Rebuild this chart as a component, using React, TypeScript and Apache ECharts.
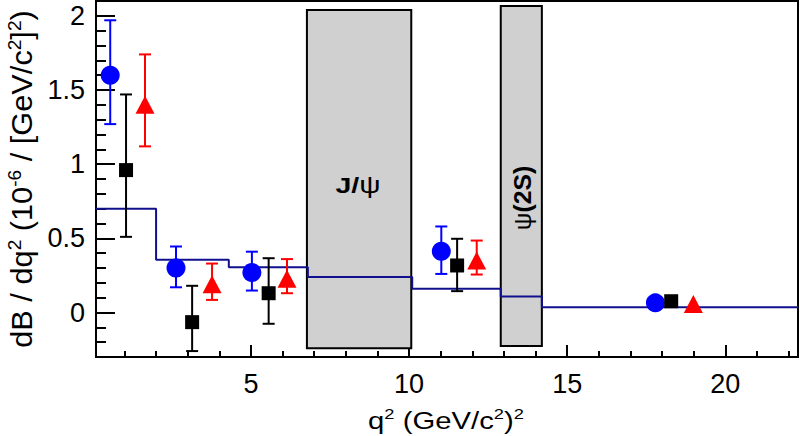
import React, { useEffect, useRef } from "react";
import * as echarts from "echarts";

// Histogram (theory prediction) bin edges and values
const binEdges = [0.1, 2.0, 4.3, 6.8, 10.1, 12.9, 14.2, 22.3];
const binValues = [0.7, 0.355, 0.305, 0.24, 0.16, 0.108, 0.036];

// Blue circles
const blueX = [0.55, 2.63, 5.03, 11.02, 17.79];
const blueY = [1.6, 0.3, 0.27, 0.413, 0.065];
const blueLo = [1.27, 0.17, 0.148, 0.26, 0.065];
const blueHi = [1.97, 0.445, 0.41, 0.58, 0.065];

// Black squares
const blackX = [1.05, 3.14, 5.56, 11.52, 18.29];
const blackY = [0.96, -0.065, 0.13, 0.317, 0.076];
const blackLo = [0.51, -0.26, -0.076, 0.144, 0.076];
const blackHi = [1.47, 0.18, 0.366, 0.497, 0.076];

// Red triangles
const redX = [1.65, 3.77, 6.14, 12.14, 18.99];
const redY = [1.4, 0.19, 0.227, 0.35, 0.058];
const redLo = [1.12, 0.085, 0.13, 0.256, 0.058];
const redHi = [1.74, 0.33, 0.36, 0.485, 0.058];

// Charmonium veto regions
const vetoX0 = [6.77, 12.9];
const vetoX1 = [10.07, 14.2];
const vetoY0 = [-0.241, -0.226];
const vetoY1 = [2.04, 2.067];

// Ticks
const xMajorTicks = [5, 10, 15, 20];
const xMinorTicks = [1, 2, 3, 4, 6, 7, 8, 9, 11, 12, 13, 14, 16, 17, 18, 19, 21, 22];
const yMajorTicks = [0, 0.5, 1, 1.5, 2];
const yMinorTicks = [
  -0.2, -0.1, 0.1, 0.2, 0.3, 0.4, 0.6, 0.7, 0.8, 0.9, 1.1, 1.2, 1.3, 1.4,
  1.6, 1.7, 1.8, 1.9, 2.1,
];

const FONT = "'Liberation Sans', Arial, Helvetica, sans-serif";

function errorBarSeries(xs: number[], lo: number[], hi: number[], color: string) {
  return {
    type: "custom",
    xAxisIndex: 0,
    yAxisIndex: 0,
    z: 3,
    data: xs.map((x, i) => [x, lo[i], hi[i]]),
    renderItem: (params: any, api: any) => {
      const x = api.value(0);
      const l = api.value(1);
      const h = api.value(2);
      if (h - l <= 0) return { type: "group", children: [] };
      const pLo = api.coord([x, l]);
      const pHi = api.coord([x, h]);
      const cap = 6;
      const style = { stroke: color, lineWidth: 2 };
      return {
        type: "group",
        children: [
          { type: "line", shape: { x1: pLo[0], y1: pLo[1], x2: pHi[0], y2: pHi[1] }, style },
          { type: "line", shape: { x1: pLo[0] - cap, y1: pLo[1], x2: pLo[0] + cap, y2: pLo[1] }, style },
          { type: "line", shape: { x1: pHi[0] - cap, y1: pHi[1], x2: pHi[0] + cap, y2: pHi[1] }, style },
        ],
      };
    },
  };
}

export default function App() {
  const ref = useRef<HTMLDivElement>(null);

  useEffect(() => {
    if (!ref.current) return;
    const chart = echarts.init(ref.current, null, { renderer: "svg" });

    const histData: number[][] = [];
    for (let i = 0; i < binValues.length; i++) histData.push([binEdges[i], binValues[i]]);
    histData.push([binEdges[binEdges.length - 1], binValues[binValues.length - 1]]);

    const ySup = { fontSize: 18, verticalAlign: "top", lineHeight: 32, fontFamily: FONT, fill: "#000" };
    const yBase = { fontSize: 29, lineHeight: 32, fontFamily: FONT, fill: "#000" };
    const xSup = { fontSize: 15, verticalAlign: "top", lineHeight: 28, fontFamily: FONT, fill: "#000" };
    const xBase = { fontSize: 24, lineHeight: 28, fontFamily: FONT, fill: "#000" };

    const option: any = {
      animation: false,
      backgroundColor: "#fff",
      grid: {
        left: 96,
        right: 2,
        top: 1,
        bottom: 79,
        show: true,
        borderColor: "#000",
        borderWidth: 2,
        backgroundColor: "transparent",
      },
      xAxis: [
        {
          type: "value",
          min: 0.1,
          max: 22.3,
          splitLine: { show: false },
          axisLine: { show: true, onZero: false, lineStyle: { color: "#000", width: 2 } },
          axisTick: {
            show: true,
            inside: true,
            length: 12,
            customValues: xMajorTicks,
            lineStyle: { color: "#000", width: 2 },
          },
          axisLabel: {
            show: true,
            customValues: xMajorTicks,
            fontSize: 27,
            fontFamily: FONT,
            color: "#000",
            margin: 13,
          },
        },
        {
          type: "value",
          min: 0.1,
          max: 22.3,
          position: "bottom",
          splitLine: { show: false },
          axisLine: { show: false, onZero: false },
          axisTick: {
            show: true,
            inside: true,
            length: 6,
            customValues: xMinorTicks,
            lineStyle: { color: "#000", width: 2 },
          },
          axisLabel: { show: false },
        },
      ],
      yAxis: [
        {
          type: "value",
          min: -0.3,
          max: 2.1,
          splitLine: { show: false },
          axisLine: { show: true, onZero: false, lineStyle: { color: "#000", width: 2 } },
          axisTick: {
            show: true,
            inside: true,
            length: 19,
            customValues: yMajorTicks,
            lineStyle: { color: "#000", width: 2 },
          },
          axisLabel: {
            show: true,
            customValues: yMajorTicks,
            fontSize: 27,
            fontFamily: FONT,
            color: "#000",
            margin: 11,
          },
        },
        {
          type: "value",
          min: -0.3,
          max: 2.1,
          position: "left",
          splitLine: { show: false },
          axisLine: { show: false, onZero: false },
          axisTick: {
            show: true,
            inside: true,
            length: 10,
            customValues: yMinorTicks,
            lineStyle: { color: "#000", width: 2 },
          },
          axisLabel: { show: false },
        },
      ],
      graphic: [
        {
          type: "text",
          x: 22,
          y: 179,
          rotation: Math.PI / 2,
          scaleX: 1.06,
          style: {
            text: "{b|dB / dq}{s|2}{b| (10}{s|-6}{b| / [GeV/c}{s|2}{b|]}{s|2}{b|)}",
            rich: { b: yBase, s: ySup },
            align: "center",
            verticalAlign: "middle",
          },
        },
        {
          type: "text",
          x: 446,
          y: 421,
          scaleX: 1.22,
          style: {
            text: "{b|q}{s|2}{b| (GeV/c}{s|2}{b|)}{s|2}",
            rich: { b: xBase, s: xSup },
            align: "center",
            verticalAlign: "middle",
          },
          z: 10,
        },
        {
          type: "text",
          x: 358,
          y: 185,
          z: 10,
          scaleX: 1.3,
          style: {
            text: "{b|J/}{n|ψ}",
            rich: {
              b: { fontSize: 22, fontWeight: "bold", fontFamily: FONT, fill: "#000" },
              n: { fontSize: 23, fontWeight: "normal", fontFamily: FONT, fill: "#000" },
            },
            align: "center",
            verticalAlign: "middle",
          },
        },
        {
          type: "text",
          x: 523,
          y: 198,
          z: 10,
          rotation: Math.PI / 2,
          scaleX: 1.08,
          style: {
            text: "{n|ψ}{b|(2S)}",
            rich: {
              b: { fontSize: 23, fontWeight: "bold", fontFamily: FONT, fill: "#000" },
              n: { fontSize: 23, fontWeight: "normal", fontFamily: FONT, fill: "#000" },
            },
            align: "center",
            verticalAlign: "middle",
          },
        },
      ],
      series: [
        {
          type: "custom",
          z: 1,
          data: vetoX0.map((x0, i) => [x0, vetoX1[i], vetoY0[i], vetoY1[i]]),
          renderItem: (params: any, api: any) => {
            const pA = api.coord([api.value(0), api.value(3)]);
            const pB = api.coord([api.value(1), api.value(2)]);
            return {
              type: "rect",
              shape: { x: pA[0], y: pA[1], width: pB[0] - pA[0], height: pB[1] - pA[1] },
              style: { fill: "#d0d0d0", stroke: "#000", lineWidth: 2 },
            };
          },
        },
        {
          type: "line",
          z: 2,
          step: "end",
          data: histData,
          symbol: "none",
          lineStyle: { color: "#10108f", width: 2 },
        },
        errorBarSeries(blueX, blueLo, blueHi, "#0000ff"),
        errorBarSeries(blackX, blackLo, blackHi, "#000000"),
        errorBarSeries(redX, redLo, redHi, "#ff0000"),
        {
          type: "scatter",
          z: 4,
          symbol: "circle",
          symbolSize: 19,
          itemStyle: { color: "#0000ff", opacity: 1 },
          data: blueX.map((x, i) => [x, blueY[i]]),
        },
        {
          type: "scatter",
          z: 4,
          symbol: "rect",
          symbolSize: 14,
          itemStyle: { color: "#000000", opacity: 1 },
          data: blackX.map((x, i) => [x, blackY[i]]),
        },
        {
          type: "scatter",
          z: 4,
          symbol: "triangle",
          symbolSize: [19, 18],
          itemStyle: { color: "#ff0000", opacity: 1 },
          data: redX.map((x, i) => [x, redY[i]]),
        },
      ],
    };

    chart.setOption(option);
    return () => chart.dispose();
  }, []);

  return (
    <div
      ref={ref}
      style={{ position: "absolute", left: 0, top: 0, width: 800, height: 436 }}
    />
  );
}
